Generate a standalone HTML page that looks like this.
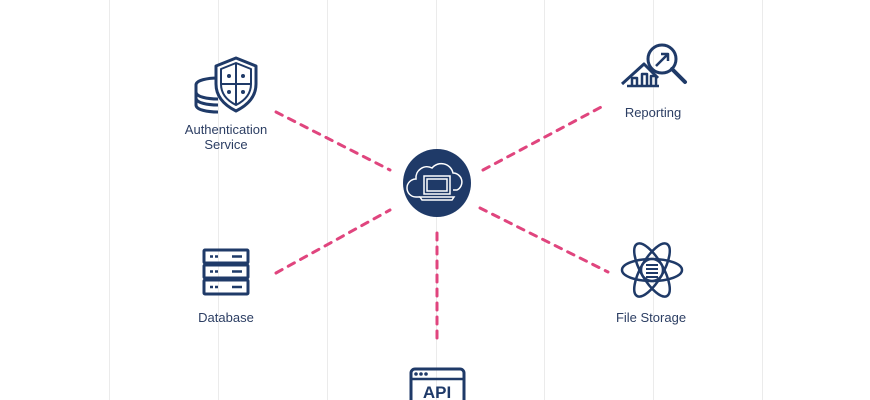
<!DOCTYPE html>
<html><head><meta charset="utf-8"><style>
html,body{margin:0;padding:0;background:#fff;}
svg{display:block}
text{font-family:"Liberation Sans",sans-serif;font-size:13px;fill:#2c3e63;text-anchor:middle}
</style></head><body>
<svg width="870" height="400" viewBox="0 0 870 400" xmlns="http://www.w3.org/2000/svg">
<g stroke="#ebebeb" stroke-width="1">
<line x1="109.5" y1="0" x2="109.5" y2="400"/><line x1="218.5" y1="0" x2="218.5" y2="400"/>
<line x1="327.5" y1="0" x2="327.5" y2="400"/><line x1="436.5" y1="0" x2="436.5" y2="400"/>
<line x1="544.5" y1="0" x2="544.5" y2="400"/><line x1="653.5" y1="0" x2="653.5" y2="400"/>
<line x1="762.5" y1="0" x2="762.5" y2="400"/>
</g>
<g stroke="#e0457e" stroke-width="3" stroke-dasharray="7 7" stroke-linecap="round" fill="none">
<line x1="276" y1="112" x2="390" y2="170"/>
<line x1="483" y1="170" x2="605" y2="105"/>
<line x1="276" y1="273" x2="390" y2="210"/>
<line x1="480" y1="208" x2="608" y2="272"/>
<line x1="437" y1="233" x2="437" y2="343"/>
</g>
<!-- center -->
<circle cx="437" cy="183" r="34" fill="#1f3a68"/>
<g stroke="#fff" stroke-width="1.5" fill="none">
<path d="M420 197 h-4 a9 9 0 0 1 0-18 a11 11 0 0 1 16-11 a12 12 0 0 1 21 5 a9 9 0 0 1 4 17 h-4"/>
<rect x="424" y="176" width="26" height="18" fill="#1f3a68"/>
<rect x="427" y="179" width="20" height="12"/>
<path d="M420 197 h34 l-2 3 h-30 z" fill="#1f3a68"/>
</g>
<g stroke="#1f3a68" stroke-width="3" fill="none" stroke-linejoin="round">
<!-- auth -->
<path d="M218 78 c-10 0 -22 2 -22 7 v20 c0 5 12 7 22 7"/>
<path d="M196 92 c0 5 12 7 22 7 M196 98 c0 5 12 7 22 7"/>
<path d="M236 58 l20 8 v18 c0 14 -10 22 -20 27 c-10 -5 -20 -13 -20 -27 v-18 z" fill="#fff"/>
<path d="M236 63 l15 6 v15 c0 11 -7 17 -15 21 c-8 -4 -15 -10 -15 -21 v-15 z" stroke-width="2"/>
<path d="M236 63 v42 M221 84 h30" stroke-width="2"/>
<!-- reporting -->
<path d="M622 84 l22 -20 l14 14"/>
<path d="M627 86 h32 M632 86 v-8 h5 v8 M642 86 v-12 h5 v12 M651 86 v-10 h5 v10" stroke-width="2.5"/>
<circle cx="662" cy="59" r="14"/>
<path d="M672 69 l13 13" stroke-width="4" stroke-linecap="round"/>
<path d="M656 66 l12 -12 M661 54 h7 v7" stroke-width="2.5"/>
<!-- database -->
<rect x="204" y="250" width="44" height="13" rx="1"/>
<rect x="204" y="265" width="44" height="13" rx="1"/>
<rect x="204" y="280" width="44" height="14" rx="1"/>
<path d="M210 256.5 h3 M215 256.5 h3 M232 256.5 h10 M210 271.5 h3 M215 271.5 h3 M232 271.5 h10 M210 287 h3 M215 287 h3 M232 287 h10" stroke-width="2.5"/>
<!-- file storage -->
<g stroke-width="2.5">
<ellipse cx="652" cy="270" rx="30" ry="11"/>
<ellipse cx="652" cy="270" rx="30" ry="11" transform="rotate(60 652 270)"/>
<ellipse cx="652" cy="270" rx="30" ry="11" transform="rotate(-60 652 270)"/>
</g>
<circle cx="652" cy="270" r="11" fill="#fff" stroke-width="2.5"/>
<path d="M646 265 h12 M646 269 h12 M646 273 h12 M646 277 h12" stroke-width="2"/>
<!-- api -->
<rect x="411" y="369" width="53" height="40" rx="4"/>
<path d="M411 379 h53" stroke-width="2.5"/>
</g>
<g fill="#1f3a68">
<circle cx="416" cy="374" r="1.8"/><circle cx="421" cy="374" r="1.8"/><circle cx="426" cy="374" r="1.8"/>
<circle cx="229" cy="76" r="2"/><circle cx="243" cy="76" r="2"/><circle cx="229" cy="92" r="2"/><circle cx="243" cy="92" r="2"/>
</g>
<text x="437" y="398" style="font-size:17px;font-weight:bold;fill:#1f3a68">API</text>
<text x="226" y="134">Authentication</text>
<text x="226" y="149">Service</text>
<text x="653" y="117">Reporting</text>
<text x="226" y="322">Database</text>
<text x="651" y="322">File Storage</text>
</svg>
</body></html>
